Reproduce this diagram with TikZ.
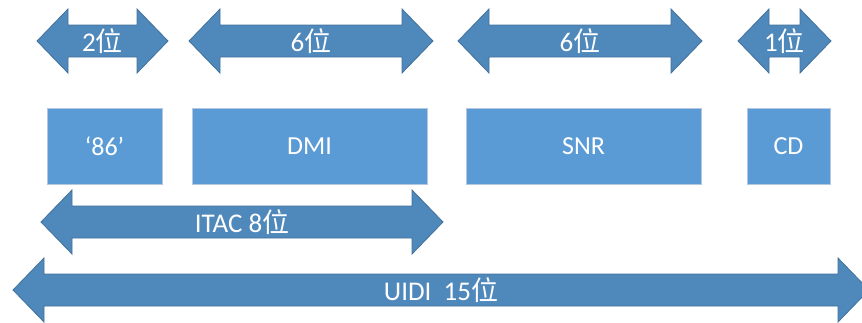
\documentclass[tikz,border=0pt]{standalone}
\usepackage{fontspec}
\setmainfont{Carlito}
\newfontfamily\cjk{Noto Sans CJK SC}
\usepackage{tikz}
\usetikzlibrary{shapes}
\definecolor{arrowblue}{HTML}{4F88BB}
\definecolor{arrowline}{HTML}{41719C}
\definecolor{fieldblue}{HTML}{5B9BD5}
\definecolor{fieldline}{HTML}{B4C7E2}
\newcommand{\wei}{{\cjk 位}}
\tikzset{
	bitshape/.style={fill=arrowblue, draw=arrowline, line width=0.8pt, line join=miter},
	bitlabel/.style={text=white, font=\fontsize{27pt}{27pt}\selectfont, inner sep=0pt},
	field/.style={rectangle, fill=fieldblue, draw=fieldline, line width=0.8pt, text=white,
		font=\fontsize{26pt}{26pt}\selectfont, minimum height=76pt}
}
% name, left tip, right tip, middle y, text
\newcommand{\bitarrow}[5]{%
	\draw[bitshape] (#2,#4) -- ({#2+31},{#4-32}) -- ({#2+31},{#4-16}) -- ({#3-31},{#4-16})
		-- ({#3-31},{#4-32}) -- (#3,#4) -- ({#3-31},{#4+32}) -- ({#3-31},{#4+16})
		-- ({#2+31},{#4+16}) -- ({#2+31},{#4+32}) -- cycle;
	\node[bitlabel] (#1) at ({(#2+#3)/2},#4) {#5};}

\begin{document}
\begin{tikzpicture}[x=1pt, y=-1pt]
		\useasboundingbox (0,0) rectangle (862,322);
		% fields
		\node[field, minimum width=115pt] (q86) at (104.5,146) {‘86’};
		\node[field, minimum width=235pt] (dmi) at (309.5,146) {DMI};
		\node[field, minimum width=235pt] (snr) at (583.5,146) {SNR};
		\node[field, minimum width=83pt] (cd) at (788.5,146) {CD};
		% widths
		\bitarrow{w86}{37}{168}{41}{2\wei}
		\bitarrow{wdmi}{189}{433}{41}{6\wei}
		\bitarrow{wsnr}{458}{702}{41}{6\wei}
		\bitarrow{wcd}{738}{831}{41}{1\wei}
		\bitarrow{itac}{41}{443}{222}{ITAC 8\wei}
		\bitarrow{uidi}{13}{869}{290}{UIDI~~15\wei}
	\end{tikzpicture}
\end{document}
